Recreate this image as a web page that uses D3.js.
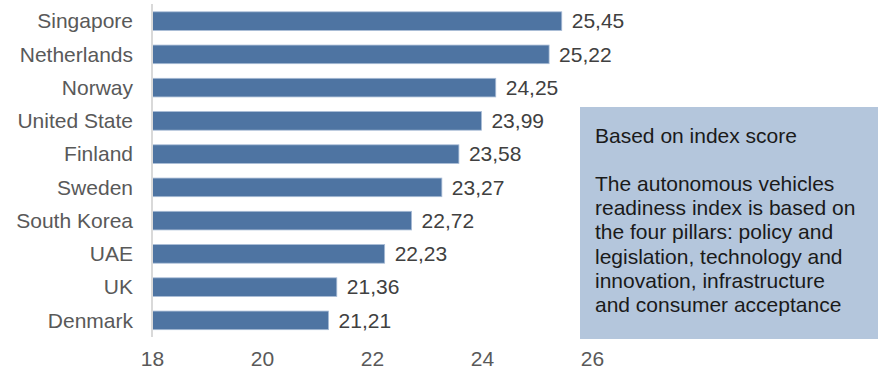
<!DOCTYPE html>
<html><head><meta charset="utf-8">
<script src="https://cdn.jsdelivr.net/npm/d3@7"></script>
<style>body{margin:0;background:#fff}svg{display:block}text{font-family:"Liberation Sans",Arial,sans-serif}</style>
</head><body><svg id="c" width="880" height="372"></svg>
<script>
const countries = ["Singapore","Netherlands","Norway","United State","Finland","Sweden","South Korea","UAE","UK","Denmark"];
const scores = [25.45,25.22,24.25,23.99,23.58,23.27,22.72,22.23,21.36,21.21];
const labels = ["25,45","25,22","24,25","23,99","23,58","23,27","22,72","22,23","21,36","21,21"];
const ticks = [18,20,22,24,26];
const noteLines = ["Based on index score","","The autonomous vehicles","readiness index is based on","the four pillars: policy and","legislation, technology and","innovation, infrastructure","and consumer acceptance"];

const svg = d3.select("#c");
const x = d3.scaleLinear().domain([18,26]).range([152,592]);
const y = d3.scaleBand().domain(countries).range([4.5,337]).paddingInner(0.44).paddingOuter(0.22);
const data = countries.map((c,i)=>({c,v:scores[i],l:labels[i]}));

svg.selectAll("rect.bar").data(data).enter().append("rect").attr("class","bar")
  .attr("x",x(18)+0.5).attr("y",d=>y(d.c)).attr("width",d=>x(d.v)-x(18)-0.5).attr("height",y.bandwidth())
  .attr("fill","#4e74a2").attr("stroke","#a9bcd6").attr("stroke-width",0.8);

svg.append("line").attr("x1",x(18)).attr("x2",x(18)).attr("y1",4).attr("y2",337)
  .attr("stroke","#d9d9d9").attr("stroke-width",2);

svg.selectAll("text.cat").data(data).enter().append("text").attr("class","cat")
  .attr("x",133).attr("y",d=>y(d.c)+y.bandwidth()/2).attr("dy","0.35em")
  .attr("text-anchor","end").attr("font-size",21).attr("fill","#595959").text(d=>d.c);

svg.selectAll("text.val").data(data).enter().append("text").attr("class","val")
  .attr("x",d=>x(d.v)+10).attr("y",d=>y(d.c)+y.bandwidth()/2).attr("dy","0.35em")
  .attr("font-size",21).attr("fill","#404040").text(d=>d.l);

const ax = svg.append("g").attr("transform","translate(0,348)")
  .call(d3.axisBottom(x).tickValues(ticks).tickSize(0).tickFormat(d3.format("d")));
ax.select(".domain").remove();
ax.selectAll("text").attr("font-size",21).attr("fill","#595959").attr("font-family","Liberation Sans, Arial, sans-serif").attr("dy","0.71em");

svg.append("rect").attr("x",580).attr("y",107).attr("width",298).attr("height",232).attr("fill","#b4c6dc");
svg.append("g").selectAll("text").data(noteLines).enter().append("text")
  .attr("x",595).attr("y",(d,i)=>143+i*24.1).attr("font-size",21).attr("fill","#1a1a1a").text(d=>d);
</script></body></html>
